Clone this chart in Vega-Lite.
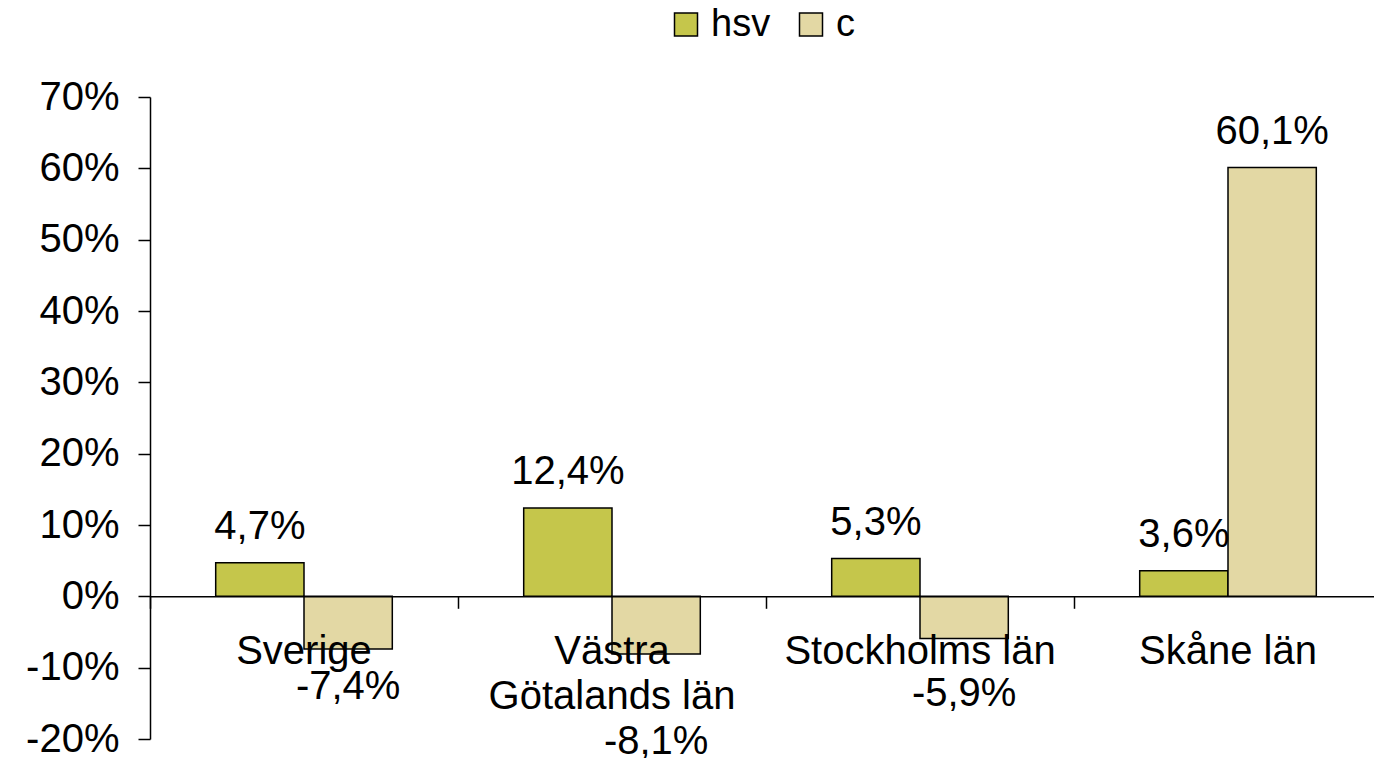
{
  "$schema": "https://vega.github.io/schema/vega-lite/v6.json",
  "width": 1224,
  "height": 642,
  "autosize": {"type": "none"},
  "padding": {"left": 150, "top": 97, "right": 0, "bottom": 19},
  "background": "white",
  "config": {
    "view": {"stroke": null},
    "font": "Liberation Sans",
    "locale": {"number": {"decimal": ",", "thousands": "\u00a0", "grouping": [3], "currency": ["", " kr"], "minus": "-"}},
    "axis": {"labelFont": "Liberation Sans", "labelColor": "black", "domainColor": "black", "tickColor": "black", "grid": false, "title": null},
    "text": {"font": "Liberation Sans", "fontSize": 40, "color": "black", "baseline": "alphabetic", "align": "center"}
  },
  "data": {
    "values": [
      {"region": "Sverige", "series": "hsv", "value": 0.047},
      {"region": "Sverige", "series": "c", "value": -0.074},
      {"region": "Västra Götalands län", "series": "hsv", "value": 0.124},
      {"region": "Västra Götalands län", "series": "c", "value": -0.081},
      {"region": "Stockholms län", "series": "hsv", "value": 0.053},
      {"region": "Stockholms län", "series": "c", "value": -0.059},
      {"region": "Skåne län", "series": "hsv", "value": 0.036},
      {"region": "Skåne län", "series": "c", "value": 0.601}
    ]
  },
  "encoding": {
    "x": {
      "field": "region",
      "type": "nominal",
      "sort": null,
      "scale": {"range": [0, 1232], "paddingInner": 0, "paddingOuter": 0},
      "axis": {
        "title": null,
        "orient": "bottom",
        "offset": -142.7,
        "bandPosition": 0,
        "tickSize": 12,
        "tickWidth": 1.5,
        "domainWidth": 1.5,
        "labelFontSize": 40,
        "labelPadding": 23,
        "labelAngle": 0,
        "labelLineHeight": 45,
        "labelLimit": 0,
        "labelOverlap": false,
        "labelExpr": "datum.label == 'Västra Götalands län' ? ['Västra', 'Götalands län'] : datum.label",
        "zindex": 1
      }
    },
    "xOffset": {
      "field": "series",
      "type": "nominal",
      "sort": ["hsv", "c"],
      "scale": {"paddingInner": 0, "paddingOuter": 0.744}
    },
    "y": {
      "field": "value",
      "type": "quantitative",
      "scale": {"domain": [-0.2, 0.7], "nice": false},
      "axis": {
        "title": null,
        "values": [-0.2, -0.1, 0, 0.1, 0.2, 0.3, 0.4, 0.5, 0.6, 0.7],
        "format": ".0%",
        "labelExpr": "replace(datum.label, '\u2212', '-')",
        "tickSize": 12,
        "tickWidth": 1.5,
        "domainWidth": 1.5,
        "labelFontSize": 40,
        "labelPadding": 19
      }
    }
  },
  "layer": [
    {
      "mark": {"type": "bar", "stroke": "black", "strokeWidth": 1.5},
      "encoding": {
        "color": {
          "field": "series",
          "type": "nominal",
          "sort": ["hsv", "c"],
          "scale": {"domain": ["hsv", "c"], "range": ["#C5C64B", "#E3D8A4"]},
          "legend": {
            "orient": "none",
            "legendX": 517,
            "legendY": -91.5,
            "direction": "horizontal",
            "title": null,
            "symbolType": "square",
            "symbolSize": 529,
            "symbolStrokeColor": "black",
            "symbolStrokeWidth": 1.5,
            "labelFontSize": 38,
            "labelFont": "Liberation Sans",
            "labelColor": "black",
            "labelOffset": 6,
            "columnPadding": 21,
            "padding": 0,
            "labelLimit": 0
          }
        }
      }
    },
    {
      "transform": [{"filter": "datum.value > 0"}],
      "mark": {"type": "text", "dy": -24},
      "encoding": {"text": {"field": "value", "type": "quantitative", "format": ".1%"}}
    },
    {
      "transform": [{"filter": "datum.value < 0 && datum.region == 'Sverige'"}],
      "mark": {"type": "text", "dy": 50},
      "encoding": {"text": {"field": "value", "type": "quantitative", "format": ".1%"}}
    },
    {
      "transform": [{"filter": "datum.value < 0 && datum.region == 'Västra Götalands län'"}],
      "mark": {"type": "text", "dy": 100},
      "encoding": {"text": {"field": "value", "type": "quantitative", "format": ".1%"}}
    },
    {
      "transform": [{"filter": "datum.value < 0 && datum.region == 'Stockholms län'"}],
      "mark": {"type": "text", "dy": 68},
      "encoding": {"text": {"field": "value", "type": "quantitative", "format": ".1%"}}
    }
  ]
}
